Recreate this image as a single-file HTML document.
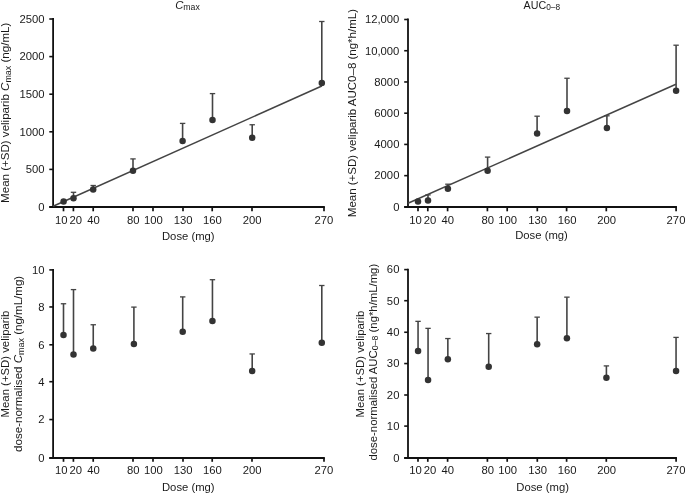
<!DOCTYPE html>
<html><head><meta charset="utf-8"><title>Chart</title>
<style>
html,body{margin:0;padding:0;background:#fff;}
svg{display:block;will-change:transform;opacity:0.999;}
text{font-family:"Liberation Sans",sans-serif;font-size:10.7px;fill:#1a1a1a;}
</style></head>
<body>
<svg width="685" height="493" viewBox="0 0 685 493">
<rect x="0" y="0" width="685" height="493" fill="#ffffff"/>
<line x1="53.1" y1="18.1" x2="53.1" y2="207.9" stroke="#111" stroke-width="1.8"/>
<line x1="49.300000000000004" y1="207.0" x2="324.85" y2="207.0" stroke="#111" stroke-width="1.8"/>
<line x1="49.300000000000004" y1="19.0" x2="53.1" y2="19.0" stroke="#111" stroke-width="1.6"/>
<text transform="translate(44.5,22.8) scale(1.055,1)" text-anchor="end">2500</text>
<line x1="49.300000000000004" y1="56.6" x2="53.1" y2="56.6" stroke="#111" stroke-width="1.6"/>
<text transform="translate(44.5,60.4) scale(1.055,1)" text-anchor="end">2000</text>
<line x1="49.300000000000004" y1="94.2" x2="53.1" y2="94.2" stroke="#111" stroke-width="1.6"/>
<text transform="translate(44.5,98.0) scale(1.055,1)" text-anchor="end">1500</text>
<line x1="49.300000000000004" y1="131.8" x2="53.1" y2="131.8" stroke="#111" stroke-width="1.6"/>
<text transform="translate(44.5,135.60000000000002) scale(1.055,1)" text-anchor="end">1000</text>
<line x1="49.300000000000004" y1="169.4" x2="53.1" y2="169.4" stroke="#111" stroke-width="1.6"/>
<text transform="translate(44.5,173.20000000000002) scale(1.055,1)" text-anchor="end">500</text>
<line x1="49.300000000000004" y1="207.0" x2="53.1" y2="207.0" stroke="#111" stroke-width="1.6"/>
<text transform="translate(44.5,210.8) scale(1.055,1)" text-anchor="end">0</text>
<line x1="63.5" y1="207.0" x2="63.5" y2="211.3" stroke="#111" stroke-width="1.7"/>
<text transform="translate(61.3,223.7) scale(1.055,1)" text-anchor="middle">10</text>
<line x1="73.4" y1="207.0" x2="73.4" y2="211.3" stroke="#111" stroke-width="1.7"/>
<text transform="translate(75.8,223.7) scale(1.055,1)" text-anchor="middle">20</text>
<line x1="93.2" y1="207.0" x2="93.2" y2="211.3" stroke="#111" stroke-width="1.7"/>
<text transform="translate(93.5,223.7) scale(1.055,1)" text-anchor="middle">40</text>
<line x1="133" y1="207.0" x2="133" y2="211.3" stroke="#111" stroke-width="1.7"/>
<text transform="translate(133.3,223.7) scale(1.055,1)" text-anchor="middle">80</text>
<line x1="153" y1="207.0" x2="153" y2="211.3" stroke="#111" stroke-width="1.7"/>
<text transform="translate(153.3,223.7) scale(1.055,1)" text-anchor="middle">100</text>
<line x1="183" y1="207.0" x2="183" y2="211.3" stroke="#111" stroke-width="1.7"/>
<text transform="translate(183.2,223.7) scale(1.055,1)" text-anchor="middle">130</text>
<line x1="212.2" y1="207.0" x2="212.2" y2="211.3" stroke="#111" stroke-width="1.7"/>
<text transform="translate(212.4,223.7) scale(1.055,1)" text-anchor="middle">160</text>
<line x1="252" y1="207.0" x2="252" y2="211.3" stroke="#111" stroke-width="1.7"/>
<text transform="translate(252.1,223.7) scale(1.055,1)" text-anchor="middle">200</text>
<line x1="324.0" y1="207.0" x2="324.0" y2="211.3" stroke="#111" stroke-width="1.7"/>
<text transform="translate(323.9,223.7) scale(1.055,1)" text-anchor="middle">270</text>
<line x1="53.1" y1="206.3" x2="321.8" y2="86" stroke="#444" stroke-width="1.5"/>

<line x1="73.5" y1="198.2" x2="73.5" y2="192.3" stroke="#444" stroke-width="1.6"/><line x1="70.8" y1="192.3" x2="76.2" y2="192.3" stroke="#444" stroke-width="1.3"/>
<line x1="93.2" y1="189.4" x2="93.2" y2="185.5" stroke="#444" stroke-width="1.6"/><line x1="90.5" y1="185.5" x2="95.9" y2="185.5" stroke="#444" stroke-width="1.3"/>
<line x1="133" y1="170.8" x2="133" y2="158.9" stroke="#444" stroke-width="1.6"/><line x1="130.3" y1="158.9" x2="135.7" y2="158.9" stroke="#444" stroke-width="1.3"/>
<line x1="182.6" y1="141.1" x2="182.6" y2="123.4" stroke="#444" stroke-width="1.6"/><line x1="179.9" y1="123.4" x2="185.29999999999998" y2="123.4" stroke="#444" stroke-width="1.3"/>
<line x1="212.5" y1="119.9" x2="212.5" y2="93.6" stroke="#444" stroke-width="1.6"/><line x1="209.8" y1="93.6" x2="215.2" y2="93.6" stroke="#444" stroke-width="1.3"/>
<line x1="252.2" y1="137.75" x2="252.2" y2="124.75" stroke="#444" stroke-width="1.6"/><line x1="249.5" y1="124.75" x2="254.89999999999998" y2="124.75" stroke="#444" stroke-width="1.3"/>
<line x1="321.8" y1="82.9" x2="321.8" y2="21.5" stroke="#444" stroke-width="1.6"/><line x1="319.1" y1="21.5" x2="324.5" y2="21.5" stroke="#444" stroke-width="1.3"/>
<circle cx="63.6" cy="201.4" r="3.25" fill="#333"/>
<circle cx="73.5" cy="198.2" r="3.25" fill="#333"/>
<circle cx="93.2" cy="189.4" r="3.25" fill="#333"/>
<circle cx="133" cy="170.8" r="3.25" fill="#333"/>
<circle cx="182.6" cy="141.1" r="3.25" fill="#333"/>
<circle cx="212.5" cy="119.9" r="3.25" fill="#333"/>
<circle cx="252.2" cy="137.75" r="3.25" fill="#333"/>
<circle cx="321.8" cy="82.9" r="3.25" fill="#333"/>
<text transform="translate(188.3,240.0) scale(1.055,1)" text-anchor="middle">Dose (mg)</text>
<line x1="408" y1="18.6" x2="408" y2="207.9" stroke="#111" stroke-width="1.8"/>
<line x1="404.2" y1="207.0" x2="676.95" y2="207.0" stroke="#111" stroke-width="1.8"/>
<line x1="404.2" y1="19.5" x2="408" y2="19.5" stroke="#111" stroke-width="1.6"/>
<text transform="translate(399.4,23.3) scale(1.055,1)" text-anchor="end">12,000</text>
<line x1="404.2" y1="50.730000000000004" x2="408" y2="50.730000000000004" stroke="#111" stroke-width="1.6"/>
<text transform="translate(399.4,54.53) scale(1.055,1)" text-anchor="end">10,000</text>
<line x1="404.2" y1="81.96000000000001" x2="408" y2="81.96000000000001" stroke="#111" stroke-width="1.6"/>
<text transform="translate(399.4,85.76) scale(1.055,1)" text-anchor="end">8000</text>
<line x1="404.2" y1="113.19" x2="408" y2="113.19" stroke="#111" stroke-width="1.6"/>
<text transform="translate(399.4,116.99) scale(1.055,1)" text-anchor="end">6000</text>
<line x1="404.2" y1="144.42000000000002" x2="408" y2="144.42000000000002" stroke="#111" stroke-width="1.6"/>
<text transform="translate(399.4,148.22000000000003) scale(1.055,1)" text-anchor="end">4000</text>
<line x1="404.2" y1="175.65" x2="408" y2="175.65" stroke="#111" stroke-width="1.6"/>
<text transform="translate(399.4,179.45000000000002) scale(1.055,1)" text-anchor="end">2000</text>
<line x1="404.2" y1="206.88" x2="408" y2="206.88" stroke="#111" stroke-width="1.6"/>
<text transform="translate(399.4,210.68) scale(1.055,1)" text-anchor="end">0</text>
<line x1="418" y1="207.0" x2="418" y2="211.3" stroke="#111" stroke-width="1.7"/>
<text transform="translate(415.6,223.7) scale(1.055,1)" text-anchor="middle">10</text>
<line x1="427.8" y1="207.0" x2="427.8" y2="211.3" stroke="#111" stroke-width="1.7"/>
<text transform="translate(430.0,223.7) scale(1.055,1)" text-anchor="middle">20</text>
<line x1="447.6" y1="207.0" x2="447.6" y2="211.3" stroke="#111" stroke-width="1.7"/>
<text transform="translate(447.8,223.7) scale(1.055,1)" text-anchor="middle">40</text>
<line x1="487.4" y1="207.0" x2="487.4" y2="211.3" stroke="#111" stroke-width="1.7"/>
<text transform="translate(487.7,223.7) scale(1.055,1)" text-anchor="middle">80</text>
<line x1="507.2" y1="207.0" x2="507.2" y2="211.3" stroke="#111" stroke-width="1.7"/>
<text transform="translate(507.7,223.7) scale(1.055,1)" text-anchor="middle">100</text>
<line x1="537.3" y1="207.0" x2="537.3" y2="211.3" stroke="#111" stroke-width="1.7"/>
<text transform="translate(537.6,223.7) scale(1.055,1)" text-anchor="middle">130</text>
<line x1="566.6" y1="207.0" x2="566.6" y2="211.3" stroke="#111" stroke-width="1.7"/>
<text transform="translate(567.1,223.7) scale(1.055,1)" text-anchor="middle">160</text>
<line x1="606.3" y1="207.0" x2="606.3" y2="211.3" stroke="#111" stroke-width="1.7"/>
<text transform="translate(606.6,223.7) scale(1.055,1)" text-anchor="middle">200</text>
<line x1="676.1" y1="207.0" x2="676.1" y2="211.3" stroke="#111" stroke-width="1.7"/>
<text transform="translate(676.0,223.7) scale(1.055,1)" text-anchor="middle">270</text>
<line x1="408" y1="203.3" x2="675.9" y2="84.3" stroke="#444" stroke-width="1.5"/>

<line x1="428.0" y1="200.4" x2="428.0" y2="194.9" stroke="#444" stroke-width="1.6"/><line x1="425.3" y1="194.9" x2="430.7" y2="194.9" stroke="#444" stroke-width="1.3"/>
<line x1="447.9" y1="188.7" x2="447.9" y2="184.2" stroke="#444" stroke-width="1.6"/><line x1="445.2" y1="184.2" x2="450.59999999999997" y2="184.2" stroke="#444" stroke-width="1.3"/>
<line x1="487.6" y1="170.8" x2="487.6" y2="157.1" stroke="#444" stroke-width="1.6"/><line x1="484.90000000000003" y1="157.1" x2="490.3" y2="157.1" stroke="#444" stroke-width="1.3"/>
<line x1="537.1" y1="133.5" x2="537.1" y2="116.2" stroke="#444" stroke-width="1.6"/><line x1="534.4" y1="116.2" x2="539.8000000000001" y2="116.2" stroke="#444" stroke-width="1.3"/>
<line x1="567.0" y1="111.0" x2="567.0" y2="78.25" stroke="#444" stroke-width="1.6"/><line x1="564.3" y1="78.25" x2="569.7" y2="78.25" stroke="#444" stroke-width="1.3"/>
<line x1="606.9" y1="128.0" x2="606.9" y2="115.8" stroke="#444" stroke-width="1.6"/><line x1="604.1999999999999" y1="115.8" x2="609.6" y2="115.8" stroke="#444" stroke-width="1.3"/>
<line x1="676.1" y1="90.8" x2="676.1" y2="45.2" stroke="#444" stroke-width="1.6"/><line x1="673.4" y1="45.2" x2="678.8000000000001" y2="45.2" stroke="#444" stroke-width="1.3"/>
<circle cx="418.0" cy="201.6" r="3.25" fill="#333"/>
<circle cx="428.0" cy="200.4" r="3.25" fill="#333"/>
<circle cx="447.9" cy="188.7" r="3.25" fill="#333"/>
<circle cx="487.6" cy="170.8" r="3.25" fill="#333"/>
<circle cx="537.1" cy="133.5" r="3.25" fill="#333"/>
<circle cx="567.0" cy="111.0" r="3.25" fill="#333"/>
<circle cx="606.9" cy="128.0" r="3.25" fill="#333"/>
<circle cx="676.1" cy="90.8" r="3.25" fill="#333"/>
<text transform="translate(541.5,238.5) scale(1.055,1)" text-anchor="middle">Dose (mg)</text>
<line x1="53.1" y1="268.90000000000003" x2="53.1" y2="458.9" stroke="#111" stroke-width="1.8"/>
<line x1="49.300000000000004" y1="458.0" x2="324.85" y2="458.0" stroke="#111" stroke-width="1.8"/>
<line x1="49.300000000000004" y1="269.9" x2="53.1" y2="269.9" stroke="#111" stroke-width="1.6"/>
<text transform="translate(44.5,273.7) scale(1.055,1)" text-anchor="end">10</text>
<line x1="49.300000000000004" y1="306.95" x2="53.1" y2="306.95" stroke="#111" stroke-width="1.6"/>
<text transform="translate(44.5,310.75) scale(1.055,1)" text-anchor="end">8</text>
<line x1="49.300000000000004" y1="344.8" x2="53.1" y2="344.8" stroke="#111" stroke-width="1.6"/>
<text transform="translate(44.5,348.6) scale(1.055,1)" text-anchor="end">6</text>
<line x1="49.300000000000004" y1="381.7" x2="53.1" y2="381.7" stroke="#111" stroke-width="1.6"/>
<text transform="translate(44.5,385.5) scale(1.055,1)" text-anchor="end">4</text>
<line x1="49.300000000000004" y1="419.55" x2="53.1" y2="419.55" stroke="#111" stroke-width="1.6"/>
<text transform="translate(44.5,423.35) scale(1.055,1)" text-anchor="end">2</text>
<line x1="49.300000000000004" y1="458.0" x2="53.1" y2="458.0" stroke="#111" stroke-width="1.6"/>
<text transform="translate(44.5,461.8) scale(1.055,1)" text-anchor="end">0</text>
<line x1="63.5" y1="458.0" x2="63.5" y2="461.8" stroke="#111" stroke-width="1.7"/>
<text transform="translate(61.3,474.0) scale(1.055,1)" text-anchor="middle">10</text>
<line x1="73.4" y1="458.0" x2="73.4" y2="461.8" stroke="#111" stroke-width="1.7"/>
<text transform="translate(75.8,474.0) scale(1.055,1)" text-anchor="middle">20</text>
<line x1="93.2" y1="458.0" x2="93.2" y2="461.8" stroke="#111" stroke-width="1.7"/>
<text transform="translate(93.5,474.0) scale(1.055,1)" text-anchor="middle">40</text>
<line x1="133" y1="458.0" x2="133" y2="461.8" stroke="#111" stroke-width="1.7"/>
<text transform="translate(133.3,474.0) scale(1.055,1)" text-anchor="middle">80</text>
<line x1="153" y1="458.0" x2="153" y2="461.8" stroke="#111" stroke-width="1.7"/>
<text transform="translate(153.3,474.0) scale(1.055,1)" text-anchor="middle">100</text>
<line x1="183" y1="458.0" x2="183" y2="461.8" stroke="#111" stroke-width="1.7"/>
<text transform="translate(183.2,474.0) scale(1.055,1)" text-anchor="middle">130</text>
<line x1="212.2" y1="458.0" x2="212.2" y2="461.8" stroke="#111" stroke-width="1.7"/>
<text transform="translate(212.4,474.0) scale(1.055,1)" text-anchor="middle">160</text>
<line x1="252" y1="458.0" x2="252" y2="461.8" stroke="#111" stroke-width="1.7"/>
<text transform="translate(252.1,474.0) scale(1.055,1)" text-anchor="middle">200</text>
<line x1="324.0" y1="458.0" x2="324.0" y2="461.8" stroke="#111" stroke-width="1.7"/>
<text transform="translate(323.9,474.0) scale(1.055,1)" text-anchor="middle">270</text>
<line x1="63.5" y1="334.9" x2="63.5" y2="303.75" stroke="#444" stroke-width="1.6"/><line x1="60.8" y1="303.75" x2="66.2" y2="303.75" stroke="#444" stroke-width="1.3"/>
<line x1="73.5" y1="354.4" x2="73.5" y2="289.6" stroke="#444" stroke-width="1.6"/><line x1="70.8" y1="289.6" x2="76.2" y2="289.6" stroke="#444" stroke-width="1.3"/>
<line x1="93.25" y1="348.4" x2="93.25" y2="324.75" stroke="#444" stroke-width="1.6"/><line x1="90.55" y1="324.75" x2="95.95" y2="324.75" stroke="#444" stroke-width="1.3"/>
<line x1="133.9" y1="343.9" x2="133.9" y2="307.1" stroke="#444" stroke-width="1.6"/><line x1="131.20000000000002" y1="307.1" x2="136.6" y2="307.1" stroke="#444" stroke-width="1.3"/>
<line x1="182.7" y1="331.7" x2="182.7" y2="296.9" stroke="#444" stroke-width="1.6"/><line x1="180.0" y1="296.9" x2="185.39999999999998" y2="296.9" stroke="#444" stroke-width="1.3"/>
<line x1="212.45" y1="320.9" x2="212.45" y2="279.7" stroke="#444" stroke-width="1.6"/><line x1="209.75" y1="279.7" x2="215.14999999999998" y2="279.7" stroke="#444" stroke-width="1.3"/>
<line x1="252.2" y1="370.9" x2="252.2" y2="353.95" stroke="#444" stroke-width="1.6"/><line x1="249.5" y1="353.95" x2="254.89999999999998" y2="353.95" stroke="#444" stroke-width="1.3"/>
<line x1="321.8" y1="342.65" x2="321.8" y2="285.5" stroke="#444" stroke-width="1.6"/><line x1="319.1" y1="285.5" x2="324.5" y2="285.5" stroke="#444" stroke-width="1.3"/>
<circle cx="63.5" cy="334.9" r="3.25" fill="#333"/>
<circle cx="73.5" cy="354.4" r="3.25" fill="#333"/>
<circle cx="93.25" cy="348.4" r="3.25" fill="#333"/>
<circle cx="133.9" cy="343.9" r="3.25" fill="#333"/>
<circle cx="182.7" cy="331.7" r="3.25" fill="#333"/>
<circle cx="212.45" cy="320.9" r="3.25" fill="#333"/>
<circle cx="252.2" cy="370.9" r="3.25" fill="#333"/>
<circle cx="321.8" cy="342.65" r="3.25" fill="#333"/>
<text transform="translate(188.3,490.5) scale(1.055,1)" text-anchor="middle">Dose (mg)</text>
<line x1="408" y1="268.70000000000005" x2="408" y2="458.9" stroke="#111" stroke-width="1.8"/>
<line x1="404.2" y1="458.0" x2="676.95" y2="458.0" stroke="#111" stroke-width="1.8"/>
<line x1="404.2" y1="269.6" x2="408" y2="269.6" stroke="#111" stroke-width="1.6"/>
<text transform="translate(399.4,273.40000000000003) scale(1.055,1)" text-anchor="end">60</text>
<line x1="404.2" y1="300.7" x2="408" y2="300.7" stroke="#111" stroke-width="1.6"/>
<text transform="translate(399.4,304.5) scale(1.055,1)" text-anchor="end">50</text>
<line x1="404.2" y1="332.25" x2="408" y2="332.25" stroke="#111" stroke-width="1.6"/>
<text transform="translate(399.4,336.05) scale(1.055,1)" text-anchor="end">40</text>
<line x1="404.2" y1="363.55" x2="408" y2="363.55" stroke="#111" stroke-width="1.6"/>
<text transform="translate(399.4,367.35) scale(1.055,1)" text-anchor="end">30</text>
<line x1="404.2" y1="395.0" x2="408" y2="395.0" stroke="#111" stroke-width="1.6"/>
<text transform="translate(399.4,398.8) scale(1.055,1)" text-anchor="end">20</text>
<line x1="404.2" y1="426.1" x2="408" y2="426.1" stroke="#111" stroke-width="1.6"/>
<text transform="translate(399.4,429.90000000000003) scale(1.055,1)" text-anchor="end">10</text>
<line x1="404.2" y1="458.0" x2="408" y2="458.0" stroke="#111" stroke-width="1.6"/>
<text transform="translate(399.4,461.8) scale(1.055,1)" text-anchor="end">0</text>
<line x1="418" y1="458.0" x2="418" y2="461.8" stroke="#111" stroke-width="1.7"/>
<text transform="translate(415.6,474.0) scale(1.055,1)" text-anchor="middle">10</text>
<line x1="427.8" y1="458.0" x2="427.8" y2="461.8" stroke="#111" stroke-width="1.7"/>
<text transform="translate(430.0,474.0) scale(1.055,1)" text-anchor="middle">20</text>
<line x1="447.6" y1="458.0" x2="447.6" y2="461.8" stroke="#111" stroke-width="1.7"/>
<text transform="translate(447.8,474.0) scale(1.055,1)" text-anchor="middle">40</text>
<line x1="487.4" y1="458.0" x2="487.4" y2="461.8" stroke="#111" stroke-width="1.7"/>
<text transform="translate(487.7,474.0) scale(1.055,1)" text-anchor="middle">80</text>
<line x1="507.2" y1="458.0" x2="507.2" y2="461.8" stroke="#111" stroke-width="1.7"/>
<text transform="translate(507.7,474.0) scale(1.055,1)" text-anchor="middle">100</text>
<line x1="537.3" y1="458.0" x2="537.3" y2="461.8" stroke="#111" stroke-width="1.7"/>
<text transform="translate(537.6,474.0) scale(1.055,1)" text-anchor="middle">130</text>
<line x1="566.6" y1="458.0" x2="566.6" y2="461.8" stroke="#111" stroke-width="1.7"/>
<text transform="translate(567.1,474.0) scale(1.055,1)" text-anchor="middle">160</text>
<line x1="606.3" y1="458.0" x2="606.3" y2="461.8" stroke="#111" stroke-width="1.7"/>
<text transform="translate(606.6,474.0) scale(1.055,1)" text-anchor="middle">200</text>
<line x1="676.1" y1="458.0" x2="676.1" y2="461.8" stroke="#111" stroke-width="1.7"/>
<text transform="translate(676.0,474.0) scale(1.055,1)" text-anchor="middle">270</text>
<line x1="418.05" y1="351.05" x2="418.05" y2="321.35" stroke="#444" stroke-width="1.6"/><line x1="415.35" y1="321.35" x2="420.75" y2="321.35" stroke="#444" stroke-width="1.3"/>
<line x1="428.05" y1="380.05" x2="428.05" y2="328.35" stroke="#444" stroke-width="1.6"/><line x1="425.35" y1="328.35" x2="430.75" y2="328.35" stroke="#444" stroke-width="1.3"/>
<line x1="447.85" y1="359.2" x2="447.85" y2="338.55" stroke="#444" stroke-width="1.6"/><line x1="445.15000000000003" y1="338.55" x2="450.55" y2="338.55" stroke="#444" stroke-width="1.3"/>
<line x1="488.7" y1="366.7" x2="488.7" y2="333.55" stroke="#444" stroke-width="1.6"/><line x1="486.0" y1="333.55" x2="491.4" y2="333.55" stroke="#444" stroke-width="1.3"/>
<line x1="537.15" y1="344.35" x2="537.15" y2="317.15" stroke="#444" stroke-width="1.6"/><line x1="534.4499999999999" y1="317.15" x2="539.85" y2="317.15" stroke="#444" stroke-width="1.3"/>
<line x1="566.9" y1="338.35" x2="566.9" y2="297.15" stroke="#444" stroke-width="1.6"/><line x1="564.1999999999999" y1="297.15" x2="569.6" y2="297.15" stroke="#444" stroke-width="1.3"/>
<line x1="606.4" y1="377.85" x2="606.4" y2="365.9" stroke="#444" stroke-width="1.6"/><line x1="603.6999999999999" y1="365.9" x2="609.1" y2="365.9" stroke="#444" stroke-width="1.3"/>
<line x1="676.05" y1="371.05" x2="676.05" y2="337.4" stroke="#444" stroke-width="1.6"/><line x1="673.3499999999999" y1="337.4" x2="678.75" y2="337.4" stroke="#444" stroke-width="1.3"/>
<circle cx="418.05" cy="351.05" r="3.25" fill="#333"/>
<circle cx="428.05" cy="380.05" r="3.25" fill="#333"/>
<circle cx="447.85" cy="359.2" r="3.25" fill="#333"/>
<circle cx="488.7" cy="366.7" r="3.25" fill="#333"/>
<circle cx="537.15" cy="344.35" r="3.25" fill="#333"/>
<circle cx="566.9" cy="338.35" r="3.25" fill="#333"/>
<circle cx="606.4" cy="377.85" r="3.25" fill="#333"/>
<circle cx="676.05" cy="371.05" r="3.25" fill="#333"/>
<text transform="translate(542.6,490.5) scale(1.055,1)" text-anchor="middle">Dose (mg)</text>
<text transform="translate(187.5,8.6) scale(1.055,1)" text-anchor="middle"><tspan font-style="italic">C</tspan><tspan dy="1.6" font-size="8.3">max</tspan><tspan dy="-1.6" font-size="10.7">​</tspan></text>
<text transform="translate(541.8,8.7) scale(1.0,1)" text-anchor="middle">AUC<tspan dy="1.4" font-size="8.3">0–8</tspan><tspan dy="-1.4" font-size="10.7">​</tspan></text>
<text transform="translate(9.1,112.8) rotate(-90) scale(1.08,1)" text-anchor="middle">Mean (+SD) veliparib <tspan font-style="italic">C</tspan><tspan dy="1.6" font-size="8.3">max</tspan><tspan dy="-1.6" font-size="10.7">​</tspan> (ng/mL)</text>
<text transform="translate(356.2,113.1) rotate(-90) scale(1.076,1)" text-anchor="middle">Mean (+SD) veliparib AUC0–8 (ng*h/mL)</text>
<text transform="translate(8.5,364.0) rotate(-90) scale(1.06,1)" text-anchor="middle">Mean (+SD) veliparib</text>
<text transform="translate(21.9,363.85) rotate(-90) scale(1.08,1)" text-anchor="middle">dose-normalised <tspan font-style="italic">C</tspan><tspan dy="1.6" font-size="8.3">max</tspan><tspan dy="-1.6" font-size="10.7">​</tspan> (ng/mL/mg)</text>
<text transform="translate(363.8,364.0) rotate(-90) scale(1.06,1)" text-anchor="middle">Mean (+SD) veliparib</text>
<text transform="translate(376.8,362.15) rotate(-90) scale(1.06,1)" text-anchor="middle">dose-normalised AUC<tspan dy="1.6" font-size="8.3">0–8</tspan><tspan dy="-1.6" font-size="10.7">​</tspan> (ng*h/mL/mg)</text>
</svg>
</body></html>
